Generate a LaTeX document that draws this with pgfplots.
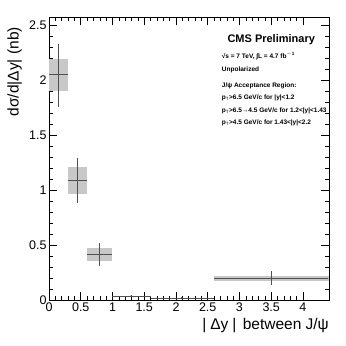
\documentclass[border=0pt]{standalone}
\usepackage{fontspec}
\setmainfont{Liberation Sans}
\usepackage{pgfplots}
\pgfplotsset{compat=1.18}
\usepackage{pgfplotstable}

\definecolor{boxgray}{HTML}{C8C8C8}
\definecolor{bargray}{HTML}{505050}

% x y xm xp ym yp (stat errors, bin half widths)
\pgfplotstableread{
x    y     xm   xp   ym    yp
0.15 2.05  0.15 0.15 0.29  0.28
0.45 1.085 0.15 0.15 0.20  0.21
0.80 0.415 0.20 0.20 0.105 0.10
1.29 0.034 0.29 0.31 0.008 0.008
2.09 0.018 0.49 0.51 0.005 0.005
3.50 0.198 0.90 0.90 0.062 0.062
}\dydata

\begin{document}
\begin{tikzpicture}
\begin{axis}[
  scale only axis,
  width=280pt, height=283pt,
  xmin=0, xmax=4.41, ymin=0, ymax=2.575,
  xtick={0,0.5,...,4}, ytick={0,0.5,...,2.5},
  minor x tick num=4, minor y tick num=4,
  tick align=inside,
  major tick length=8pt, minor tick length=4pt,
  axis line style={line width=0.7pt},
  every tick/.style={black, line width=0.5pt},
  /pgf/number format/assume math mode=true,
  ticklabel style={font=\fontsize{12.5}{14}\selectfont},
  xticklabel style={yshift=1pt},
  yticklabel style={xshift=1pt},
  xlabel={|\hspace{4pt}Δy\hspace{4pt}|\hspace{2pt} between J/ψ},
  ylabel={dσ/d|Δy| (nb)},
  label style={font=\fontsize{15.5}{18}\selectfont, inner sep=0pt},
  xlabel style={at={(rel axis cs:1,0)}, anchor=north east, yshift=-18pt},
  ylabel style={at={(rel axis cs:0,1)}, anchor=south east, yshift=27pt, xshift=-10pt},
  clip=true,
]
% systematic boxes
\addplot[fill=boxgray, draw=none] coordinates {(0,1.90)(0.3,1.90)(0.3,2.19)(0,2.19)} --cycle;
\addplot[fill=boxgray, draw=none] coordinates {(0.3,0.96)(0.6,0.96)(0.6,1.21)(0.3,1.21)} --cycle;
\addplot[fill=boxgray, draw=none] coordinates {(0.6,0.357)(1.0,0.357)(1.0,0.47)(0.6,0.47)} --cycle;
\addplot[fill=boxgray, draw=none] coordinates {(1.0,0.030)(1.6,0.030)(1.6,0.038)(1.0,0.038)} --cycle;
\addplot[fill=boxgray, draw=none] coordinates {(1.6,0.015)(2.6,0.015)(2.6,0.021)(1.6,0.021)} --cycle;
\addplot[fill=boxgray, draw=none] coordinates {(2.6,0.172)(4.41,0.172)(4.41,0.222)(2.6,0.222)} --cycle;
% points with stat errors and bin widths
\addplot[only marks, mark=*, mark size=0.6pt, color=bargray,
  error bars/.cd, x dir=both, x explicit, y dir=both, y explicit,
  error mark=none, error bar style={line width=0.8pt, color=bargray}]
  table[x=x, y=y, x error plus=xp, x error minus=xm,
        y error plus=yp, y error minus=ym] {\dydata};
\coordinate (sw) at (rel axis cs:0,0);
% legend text
\node[font=\bfseries\fontsize{11}{13}\selectfont, anchor=base, inner sep=0pt] at (axis cs:3.5,2.345) {CMS Preliminary};
\begin{scope}[every node/.style={anchor=base west, inner sep=0pt, font=\bfseries\fontsize{6.5}{8}\selectfont}]
\node at (axis cs:2.72,2.20) {√s = 7 TeV, ∫L = 4.7 fb$^{\mathbf{-1}}$};
\node at (axis cs:2.72,2.08) {Unpolarized};
\node at (axis cs:2.72,1.936) {J/ψ Acceptance Region:};
\node at (axis cs:2.72,1.827) {p$_{\mathrm{T}}$>6.5 GeV/c for |y|<1.2};
\node at (axis cs:2.72,1.71) {p$_{\mathrm{T}}$>6.5→4.5 GeV/c for 1.2<|y|<1.43};
\node at (axis cs:2.72,1.60) {p$_{\mathrm{T}}$>4.5 GeV/c for 1.43<|y|<2.2};
\end{scope}
\end{axis}
\pgfresetboundingbox
\path (sw) ++(-49pt,-46pt) rectangle ++(346pt,346pt);
\end{tikzpicture}
\end{document}
